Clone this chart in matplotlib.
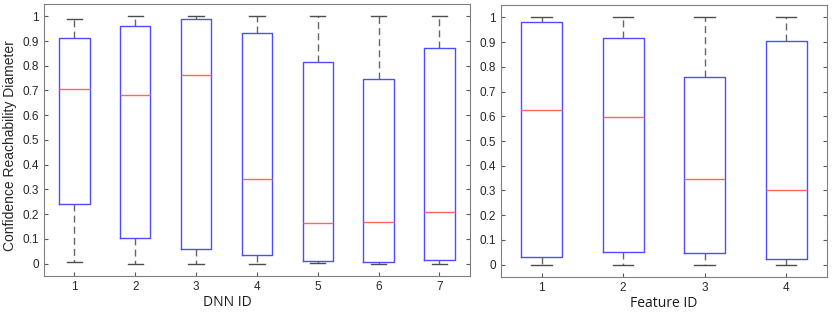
import matplotlib.pyplot as plt

plt.rcParams['font.family'] = ['Liberation Sans', 'DejaVu Sans']

# box stats: lower whisker, q1, median, q3, upper whisker
dnn_ids = [1, 2, 3, 4, 5, 6, 7]
dnn_lo = [0.008, 0.0, 0.0, 0.0, 0.003, 0.0, 0.0]
dnn_q1 = [0.241, 0.105, 0.058, 0.034, 0.012, 0.007, 0.016]
dnn_med = [0.707, 0.681, 0.762, 0.343, 0.164, 0.168, 0.210]
dnn_q3 = [0.913, 0.961, 0.989, 0.931, 0.816, 0.746, 0.872]
dnn_hi = [0.991, 1.0, 1.0, 1.0, 1.0, 1.0, 1.0]

feat_ids = [1, 2, 3, 4]
feat_lo = [0.0, 0.0, 0.0, 0.0]
feat_q1 = [0.032, 0.052, 0.046, 0.024]
feat_med = [0.625, 0.597, 0.347, 0.304]
feat_q3 = [0.980, 0.915, 0.757, 0.906]
feat_hi = [1.0, 1.0, 1.0, 1.0]

yticks = [0, 0.1, 0.2, 0.3, 0.4, 0.5, 0.6, 0.7, 0.8, 0.9, 1]
ytick_labels = ['0', '0.1', '0.2', '0.3', '0.4', '0.5', '0.6', '0.7', '0.8', '0.9', '1']


def make_stats(ids, lo, q1, med, q3, hi):
    return [dict(label=str(i), whislo=a, q1=b, med=c, q3=d, whishi=e, fliers=[])
            for i, a, b, c, d, e in zip(ids, lo, q1, med, q3, hi)]


def draw(ax, stats, n, xlabel):
    ax.bxp(stats, positions=range(1, n + 1), widths=0.5, capwidths=0.25,
           showfliers=False,
           boxprops=dict(color=(0.3, 0.3, 1.0), linewidth=1.0),
           medianprops=dict(color=(1.0, 0.4, 0.4), linewidth=1.0),
           whiskerprops=dict(color=(0.4, 0.4, 0.4), linewidth=1.0, linestyle=(0, (5, 3))),
           capprops=dict(color=(0.3, 0.3, 0.3), linewidth=1.0))
    ax.set_xlim(0.5, n + 0.5)
    ax.set_ylim(-0.05, 1.05)
    ax.set_yticks(yticks)
    ax.set_yticklabels(ytick_labels)
    ax.tick_params(direction='in', length=3, labelsize=8.5, colors=(0.35, 0.35, 0.35),
                   right=True, labelcolor=(0.15, 0.15, 0.15))
    for s in ax.spines.values():
        s.set_color((0.5, 0.5, 0.5))
    ax.set_xlabel(xlabel, fontsize=10, family=['Open Sans', 'DejaVu Sans'],
                  color=(0.1, 0.1, 0.1))


fig = plt.figure(figsize=(8.39, 3.12), dpi=100)
ax1 = fig.add_axes([0.0524, 0.1154, 0.5077, 0.872])
ax2 = fig.add_axes([0.597, 0.112, 0.3886, 0.872])

draw(ax1, make_stats(dnn_ids, dnn_lo, dnn_q1, dnn_med, dnn_q3, dnn_hi), 7, 'DNN ID')
draw(ax2, make_stats(feat_ids, feat_lo, feat_q1, feat_med, feat_q3, feat_hi), 4, 'Feature ID')

ax1.set_ylabel('Confidence Reachability Diameter', fontsize=10, color=(0.15, 0.15, 0.15))
ax1.xaxis.set_label_coords(0.43, -0.07)
ax2.xaxis.set_label_coords(0.5, -0.07)
ax1.yaxis.set_label_coords(-0.063, 0.48)

fig.savefig('out.png', dpi=100)
